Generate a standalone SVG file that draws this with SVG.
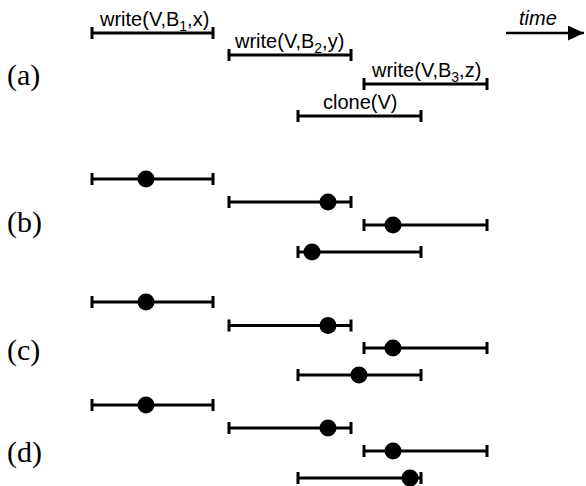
<svg xmlns="http://www.w3.org/2000/svg" width="586" height="486" viewBox="0 0 586 486">
  <defs>
    <style>
      .bar { stroke: #000; stroke-width: 3; fill: none; stroke-linecap: butt; }
      .lbl { font-family: "Liberation Sans", Arial, sans-serif; font-size: 20px; fill: #000; }
      .sub { font-size: 14px; }
      .sec { font-family: "Liberation Serif", "Times New Roman", serif; font-size: 30px; fill: #000; }
      .dot { fill: #000; }
    </style>
    <marker id="arrow" markerWidth="17" markerHeight="15" refX="16" refY="7.5" orient="auto" markerUnits="userSpaceOnUse">
      <path d="M0,0 L16,7.5 L0,15 Z" fill="#000"/>
    </marker>
  </defs>
  <rect width="586" height="486" fill="#fff"/>

  <!-- section labels -->
  <text class="sec" x="7" y="85">(a)</text>
  <text class="sec" x="7" y="232">(b)</text>
  <text class="sec" x="7" y="360">(c)</text>
  <text class="sec" x="7" y="462">(d)</text>

  <!-- time axis -->
  <g id="connectors">
    <line x1="506" y1="33" x2="584" y2="33" stroke="#000" stroke-width="2.5" marker-end="url(#arrow)"/>
  </g>
  <text class="lbl" x="519" y="25" font-style="italic">time</text>

  <!-- (a) -->
  <g id="a-write1">
    <path class="bar" d="M92,33 H213 M92,27 V39 M213,27 V39"/>
    <text class="lbl" x="100" y="26">write(V,B<tspan class="sub" dy="5">1</tspan><tspan dy="-5">,x)</tspan></text>
  </g>
  <g id="a-write2">
    <path class="bar" d="M229,55 H351 M229,49 V61 M351,49 V61"/>
    <text class="lbl" x="235" y="48">write(V,B<tspan class="sub" dy="5">2</tspan><tspan dy="-5">,y)</tspan></text>
  </g>
  <g id="a-write3">
    <path class="bar" d="M364,84 H487 M364,78 V90 M487,78 V90"/>
    <text class="lbl" x="372" y="77">write(V,B<tspan class="sub" dy="5">3</tspan><tspan dy="-5">,z)</tspan></text>
  </g>
  <g id="a-clone">
    <path class="bar" d="M298,116 H421 M298,110 V122 M421,110 V122"/>
    <text class="lbl" x="323" y="109">clone(V)</text>
  </g>

  <!-- (b) -->
  <g id="b-write1"><path class="bar" d="M92,179 H213 M92,173 V185 M213,173 V185"/><circle class="dot" cx="146" cy="179" r="8.5"/></g>
  <g id="b-write2"><path class="bar" d="M229,202 H351 M229,196 V208 M351,196 V208"/><circle class="dot" cx="328" cy="202" r="8.5"/></g>
  <g id="b-write3"><path class="bar" d="M364,225 H487 M364,219 V231 M487,219 V231"/><circle class="dot" cx="393" cy="225" r="8.5"/></g>
  <g id="b-clone"><path class="bar" d="M298,252 H421 M298,246 V258 M421,246 V258"/><circle class="dot" cx="312" cy="252" r="8.5"/></g>

  <!-- (c) -->
  <g id="c-write1"><path class="bar" d="M92,302 H213 M92,296 V308 M213,296 V308"/><circle class="dot" cx="146" cy="302" r="8.5"/></g>
  <g id="c-write2"><path class="bar" d="M229,325.5 H351 M229,319.5 V331.5 M351,319.5 V331.5"/><circle class="dot" cx="328" cy="325.5" r="8.5"/></g>
  <g id="c-write3"><path class="bar" d="M364,348 H487 M364,342 V354 M487,342 V354"/><circle class="dot" cx="393" cy="348" r="8.5"/></g>
  <g id="c-clone"><path class="bar" d="M298,375 H421 M298,369 V381 M421,369 V381"/><circle class="dot" cx="359" cy="375" r="8.5"/></g>

  <!-- (d) -->
  <g id="d-write1"><path class="bar" d="M92,405 H213 M92,399 V411 M213,399 V411"/><circle class="dot" cx="146" cy="405" r="8.5"/></g>
  <g id="d-write2"><path class="bar" d="M229,428 H351 M229,422 V434 M351,422 V434"/><circle class="dot" cx="328" cy="428" r="8.5"/></g>
  <g id="d-write3"><path class="bar" d="M364,451 H487 M364,445 V457 M487,445 V457"/><circle class="dot" cx="393" cy="451" r="8.5"/></g>
  <g id="d-clone"><path class="bar" d="M298,478 H421 M298,472 V484 M421,472 V484"/><circle class="dot" cx="410" cy="478" r="8.5"/></g>
</svg>
